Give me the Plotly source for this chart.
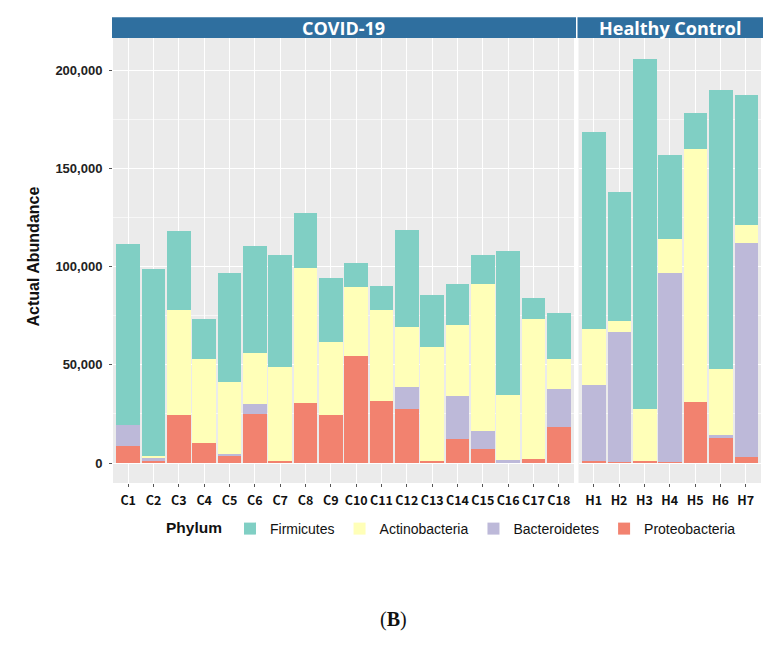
import plotly.graph_objects as go

covid_samples = ["C%d" % i for i in range(1, 19)]
healthy_samples = ["H%d" % i for i in range(1, 8)]
phyla = ["Firmicutes", "Actinobacteria", "Bacteroidetes", "Proteobacteria"]
colors = {"Firmicutes": "#80CFC4", "Actinobacteria": "#FFFFB8",
          "Bacteroidetes": "#BDB9D9", "Proteobacteria": "#F2826F"}

firm_c = [92000, 95000, 40100, 20500, 55500, 54600, 57300, 28000, 32800, 12300, 12200, 49600, 26100, 20500, 15000, 73600, 10600, 23400]
act_c = [0, 1300, 53500, 42800, 36600, 25900, 47700, 68700, 37000, 35100, 46300, 30500, 58200, 36300, 74800, 32900, 71400, 15400]
bact_c = [10600, 1200, 0, 0, 900, 5100, 0, 0, 0, 0, 0, 11200, 0, 22100, 9000, 1000, 0, 19200]
prot_c = [8700, 1200, 24400, 10000, 3900, 24800, 1000, 30700, 24400, 54500, 31600, 27300, 1000, 12000, 7100, 500, 2000, 18300]

firm_h = [100100, 66000, 177800, 42500, 18300, 141900, 66000]
act_h = [28700, 5600, 26400, 17500, 128500, 33700, 9300]
bact_h = [38500, 66000, 0, 96200, 0, 1000, 108700]
prot_h = [1000, 500, 1200, 500, 31200, 13100, 3100]

y_ticks = [0, 50000, 100000, 150000, 200000]

covid_vals = {"Firmicutes": firm_c, "Actinobacteria": act_c,
              "Bacteroidetes": bact_c, "Proteobacteria": prot_c}
healthy_vals = {"Firmicutes": firm_h, "Actinobacteria": act_h,
                "Bacteroidetes": bact_h, "Proteobacteria": prot_h}

fig = go.Figure()
stack_order = ["Proteobacteria", "Bacteroidetes", "Actinobacteria", "Firmicutes"]
for p in stack_order:
    fig.add_trace(go.Bar(x=covid_samples, y=covid_vals[p], name=p,
                         marker=dict(color=colors[p], line=dict(width=0)),
                         width=0.93, xaxis="x", yaxis="y",
                         legendrank=phyla.index(p), legendgroup=p))
    fig.add_trace(go.Bar(x=healthy_samples, y=healthy_vals[p], name=p,
                         marker=dict(color=colors[p], line=dict(width=0)),
                         width=0.93, xaxis="x2", yaxis="y2",
                         showlegend=False, legendgroup=p))

OFF = 8  # page body margin
W, H = 764, 632
L, R, T, B = 105, 11, 30, 157
pw = W - L - R
ph = H - T - B
def px_x(x):
    return (x - OFF - L) / pw
def px_y(y):
    return (H - B - (y - OFF)) / ph

d1 = [0, px_x(574)]
d2 = [px_x(578.5), 1]

yr = [-10180, 216300]
xfont = dict(family="Noto Sans CJK KR", size=12.5, color="#111111", weight="bold")
common_x = dict(type="category", showgrid=True, gridcolor="white", gridwidth=1.1,
                ticks="outside", ticklen=3, tickcolor="#555555", tickangle=0,
                ticklabelstandoff=3,
                tickfont=xfont, zeroline=False, showline=False, fixedrange=True)
fig.update_layout(
    width=W, height=H,
    margin=dict(l=L, r=R, t=T, b=B, autoexpand=False),
    paper_bgcolor="white", plot_bgcolor="#EBEBEB",
    barmode="stack", bargap=0,
    font=dict(family="Liberation Sans", color="#222222"),
    xaxis=dict(domain=d1, range=[-0.6, 17.6], **common_x),
    xaxis2=dict(domain=d2, range=[-0.6, 6.6], anchor="y2", **common_x),
    yaxis=dict(range=yr, tickvals=y_ticks, tickformat=",d",
               showgrid=True, gridcolor="white", gridwidth=1.1,
               minor=dict(dtick=25000, tick0=25000, showgrid=True, gridcolor="#F7F7F7", gridwidth=0.6),
               ticks="outside", ticklen=3, tickcolor="#555555", ticklabelstandoff=4,
               tickfont=dict(family="Liberation Sans", size=13, color="#222222", weight="bold"),
               zeroline=False, showline=False, fixedrange=True),
    yaxis2=dict(range=yr, anchor="x2", matches="y", tickvals=y_ticks, showticklabels=False,
                showgrid=True, gridcolor="white", gridwidth=1.1,
                minor=dict(dtick=25000, tick0=25000, showgrid=True, gridcolor="#F7F7F7", gridwidth=0.6),
                zeroline=False, showline=False, fixedrange=True),
    legend=dict(orientation="h", x=px_x(164), xanchor="left", y=px_y(513), yanchor="top",
                title=dict(text="<b>Phylum</b>", font=dict(size=15.5, color="#111111")),
                font=dict(size=14, color="#111111"), itemwidth=30, tracegroupgap=0),
    showlegend=True,
)

# Facet strips
strip_color = "#2F6F9F"
for (dom, label) in [(d1, "COVID-19"), (d2, "Healthy Control")]:
    fig.add_shape(type="rect", xref="paper", yref="paper",
                  x0=dom[0] - 1 / pw, x1=dom[1] + 2 / pw, y0=1.0, y1=px_y(17.3),
                  fillcolor=strip_color, line=dict(width=0), layer="above")
    fig.add_annotation(text="<b>%s</b>" % label, xref="paper", yref="paper",
                       x=(dom[0] + dom[1]) / 2, y=px_y(27.5),
                       showarrow=False, xanchor="center", yanchor="middle",
                       font=dict(family="Open Sans", size=18, color="white"))

fig.add_annotation(text="<b>Actual Abundance</b>", xref="paper", yref="paper",
                   x=px_x(32.5), y=px_y(257), textangle=-90, showarrow=False,
                   xanchor="center", yanchor="middle",
                   font=dict(family="Liberation Sans", size=16, color="#111111"))

fig.add_annotation(text="(<b>B</b>)", xref="paper", yref="paper",
                   x=px_x(393), y=px_y(619), showarrow=False,
                   xanchor="center", yanchor="middle",
                   font=dict(family="Liberation Serif", size=20, color="#111111"))

fig.write_html("out.html")
